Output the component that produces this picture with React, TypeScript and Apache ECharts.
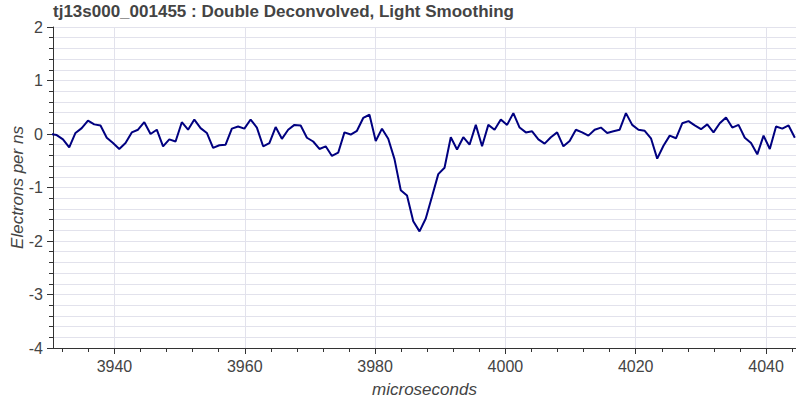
import React, { useEffect, useRef } from "react";
import * as echarts from "echarts";

// Waveform samples (electrons per ns), one every SAMPLE_PERIOD microseconds
const SAMPLE_START = 3930.18;
const SAMPLE_PERIOD = 0.96;
const SIGNAL = [
  0.0, -0.02, -0.1, -0.25, 0.02, 0.11, 0.25, 0.18, 0.16, -0.07,
  -0.17, -0.28, -0.17, 0.03, 0.08, 0.22, 0.0, 0.08, -0.23, -0.1,
  -0.14, 0.22, 0.08, 0.27, 0.11, 0.02, -0.26, -0.21, -0.2, 0.1,
  0.14, 0.1, 0.27, 0.12, -0.23, -0.17, 0.13, -0.09, 0.08, 0.17,
  0.16, -0.07, -0.14, -0.28, -0.23, -0.41, -0.35, 0.03, -0.01, 0.06,
  0.3, 0.36, -0.13, 0.1, -0.09, -0.47, -1.05, -1.15, -1.63, -1.82,
  -1.58, -1.17, -0.75, -0.63, -0.06, -0.29, -0.06, -0.2, 0.17, -0.23,
  0.17, 0.08, 0.27, 0.17, 0.39, 0.12, 0.03, 0.05, -0.1, -0.18,
  -0.06, 0.03, -0.23, -0.13, 0.08, 0.03, -0.03, 0.08, 0.12, 0.02,
  0.05, 0.08, 0.39, 0.17, 0.08, 0.06, -0.08, -0.46, -0.22, -0.03,
  -0.08, 0.2, 0.24, 0.16, 0.09, 0.18, 0.03, 0.2, 0.31, 0.12,
  0.17, -0.07, -0.17, -0.38, -0.03, -0.28, 0.14, 0.1, 0.16, -0.07,
];

const X_MIN = 3930.57;
const X_MAX = 4044.6;
const X_MAJOR_TICKS = [3940, 3960, 3980, 4000, 4020, 4040];
const X_MINOR_TICKS = [
  3932, 3936, 3944, 3948, 3952, 3956, 3964, 3968, 3972, 3976, 3984, 3988,
  3992, 3996, 4004, 4008, 4012, 4016, 4024, 4028, 4032, 4036, 4044,
];
const Y_MIN = -4;
const Y_MAX = 2;

const TITLE = "tj13s000_001455 : Double Deconvolved, Light Smoothing";
const X_TITLE = "microseconds";
const Y_TITLE = "Electrons per ns";

const FONT = "'Liberation Sans', Arial, Helvetica, sans-serif";
const TEXT = "#444444";
const AXIS = "#333333";
const GRID = "#e2e2ec";

export default function App() {
  const ref = useRef<HTMLDivElement>(null);

  useEffect(() => {
    if (!ref.current) return;
    const chart = echarts.init(ref.current, null, { renderer: "svg" });
    const points = SIGNAL.map((v, i) => [SAMPLE_START + i * SAMPLE_PERIOD, v]);

    chart.setOption({
      animation: false,
      backgroundColor: "#ffffff",
      title: {
        text: TITLE,
        left: 53,
        top: 3,
        padding: 0,
        textStyle: { fontFamily: FONT, fontSize: 17, fontWeight: "bold", color: TEXT },
      },
      grid: { left: 53, right: 0, top: 27, bottom: 53, containLabel: false, outerBoundsMode: "none" },
      xAxis: [
        {
          type: "value",
          min: X_MIN,
          max: X_MAX,
          name: X_TITLE,
          nameLocation: "middle",
          nameGap: 33,
          nameMoveOverlap: false,
          nameTextStyle: { fontFamily: FONT, fontSize: 17, fontStyle: "italic", color: TEXT },
          axisLine: { show: true, onZero: false, lineStyle: { color: AXIS, width: 1 } },
          axisTick: { show: true, length: 6, customValues: X_MAJOR_TICKS, lineStyle: { color: AXIS } },
          axisLabel: {
            customValues: X_MAJOR_TICKS,
            formatter: (v: number) => String(Math.round(v)),
            margin: 10,
            fontFamily: FONT,
            fontSize: 16,
            color: TEXT,
          },
          splitLine: { show: false },
        },
        {
          type: "value",
          min: X_MIN,
          max: X_MAX,
          position: "bottom",
          axisLine: { show: false, onZero: false },
          axisTick: { show: true, length: 4, customValues: X_MINOR_TICKS, lineStyle: { color: AXIS } },
          axisLabel: { show: false },
          splitLine: { show: false },
        },
      ],
      yAxis: {
        type: "value",
        min: Y_MIN,
        max: Y_MAX,
        interval: 1,
        name: Y_TITLE,
        nameLocation: "middle",
        nameGap: 27,
        nameMoveOverlap: false,
        nameTextStyle: { fontFamily: FONT, fontSize: 17, fontStyle: "italic", color: TEXT },
        axisLine: { show: true, onZero: false, lineStyle: { color: AXIS, width: 1 } },
        axisTick: { show: true, length: 6, lineStyle: { color: AXIS } },
        minorTick: { show: true, splitNumber: 5, length: 4, lineStyle: { color: AXIS } },
        axisLabel: { margin: 10, fontFamily: FONT, fontSize: 16, color: TEXT },
        splitLine: { show: true, lineStyle: { color: GRID, width: 1 } },
        minorSplitLine: { show: true, lineStyle: { color: GRID, width: 1 } },
      },
      series: [
        {
          type: "line",
          xAxisIndex: 0,
          data: points,
          showSymbol: false,
          clip: true,
          lineStyle: { color: "#000080", width: 2 },
          markLine: {
            silent: true,
            symbol: "none",
            label: { show: false },
            lineStyle: { color: GRID, width: 1, type: "solid" },
            data: X_MAJOR_TICKS.map((x) => ({ xAxis: x })),
            z: 0,
          },
        },
      ],
    });

    return () => chart.dispose();
  }, []);

  return (
    <div
      ref={ref}
      style={{ position: "absolute", left: 0, top: 0, width: 796, height: 401 }}
    />
  );
}
